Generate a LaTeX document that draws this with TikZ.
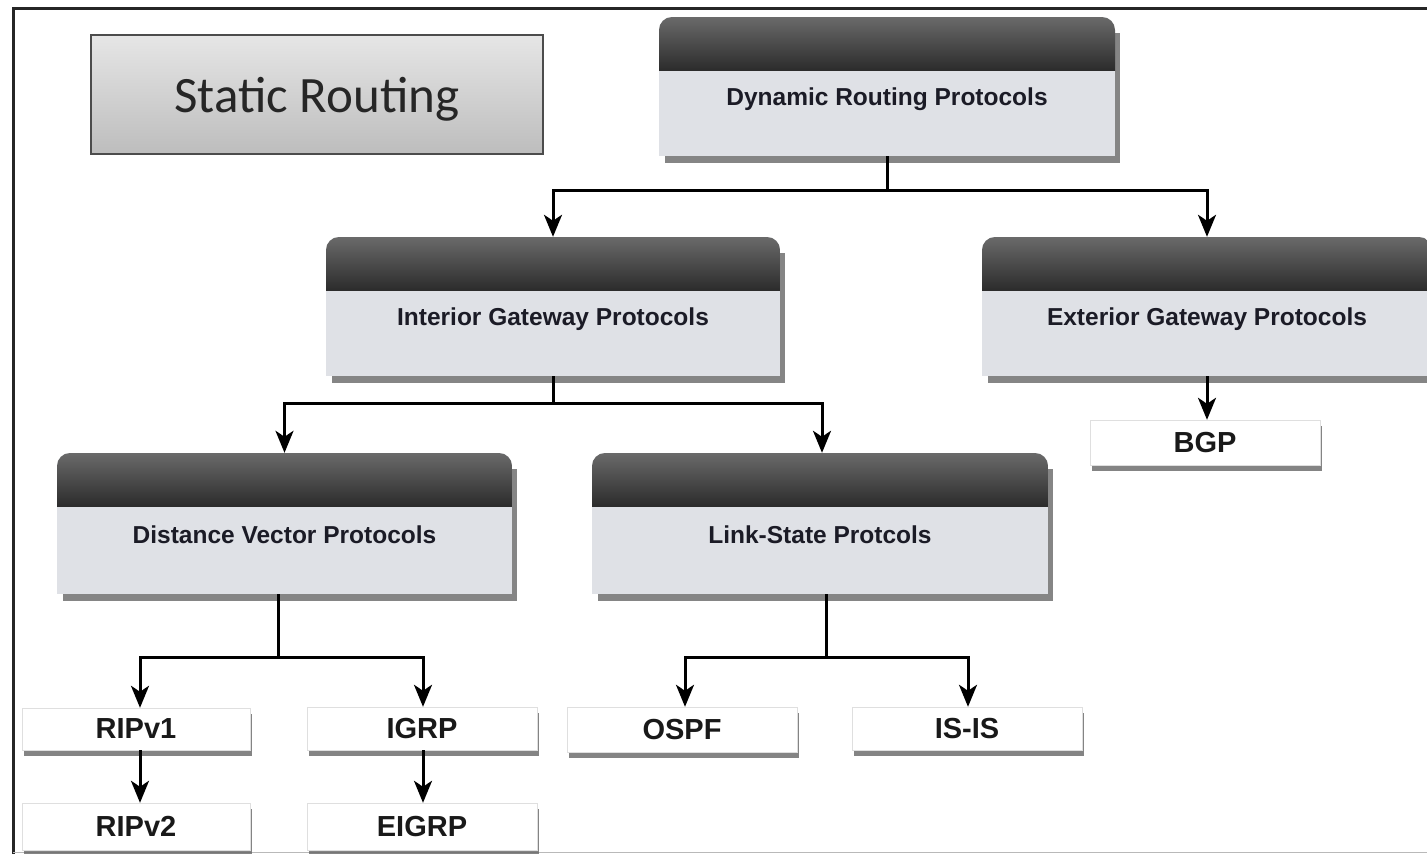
\documentclass[tikz,border=0pt]{standalone}
\usepackage{fontspec}
\setmainfont{Liberation Sans}
\newfontfamily\calfont{Carlito}
\usetikzlibrary{arrows.meta,shadows}
\definecolor{hdtop}{HTML}{6A6A6A}
\definecolor{hdbot}{HTML}{2C2C2C}
\definecolor{bodyc}{HTML}{DFE1E6}
\definecolor{shadc}{HTML}{858585}
\definecolor{txtc}{HTML}{1B1B26}
\definecolor{sttop}{HTML}{E6E6E6}
\definecolor{stbot}{HTML}{BDBDBD}
\tikzset{
  boxarea/.style={inner sep=0pt, draw=none},
  cattext/.style={inner sep=0pt, text=txtc, font=\bfseries\fontsize{24.5}{27}\selectfont},
  leaf/.style={draw=gray!25, fill=white, inner sep=0pt,
    font=\bfseries\fontsize{29}{32}\selectfont, text=black!90,
    drop shadow={shadow xshift=2pt, shadow yshift=-6pt, fill=black!60, opacity=0.8}},
  staticbox/.style={draw=black!70, line width=1.5pt, top color=sttop, bottom color=stbot,
    inner sep=0pt, font=\calfont\fontsize{51}{56}\selectfont, text=black!85},
  conn/.style={line width=3pt, black},
  arr/.style={line width=3pt, black, -{Stealth[length=22pt,width=18pt,inset=6pt]}},
}
\newcommand\catbox[6]{%
  \fill[shadc] ({#2+6},{#3+16}) rectangle ({#4+5},{#5+7});
  \begin{scope}
    \clip[rounded corners=13pt] (#2,#3) rectangle (#4,{#5+16});
    \fill[bodyc] (#2,#3) rectangle (#4,#5);
    \shade[top color=hdtop,bottom color=hdbot] (#2,#3) rectangle (#4,{#3+53});
  \end{scope}
  \node[boxarea, minimum width={#4-#2}, minimum height={#5-#3}] (#1) at ({(#2+#4)/2},{(#3+#5)/2}) {};
  \node[cattext] (#1-t) at ({(#2+#4)/2},{#3+82}) {#6};
}
\begin{document}
\begin{tikzpicture}[x=1pt,y=-1pt]
\clip (0,0) rectangle (1427,854);
\fill[white] (0,0) rectangle (1427,854);
% frame
\draw[line width=3pt, black!85] (13,860) -- (13,8) -- (1432,8);
\draw[line width=1.5pt, gray!55] (13,852.5) -- (1432,852.5);
% static routing
\node[staticbox, minimum width=452, minimum height=119, text depth=0pt, text height=36pt] (static) at (317,94.5) {Static Routing};
% category boxes
\catbox{dyn}{659}{17}{1115}{156}{Dynamic Routing Protocols}
\catbox{igp}{326}{237}{780}{376}{Interior Gateway Protocols}
\catbox{egp}{982}{237}{1432}{376}{Exterior Gateway Protocols}
\catbox{dv}{57}{453}{512}{594}{Distance Vector Protocols}
\catbox{ls}{592}{453}{1048}{594}{Link-State Protcols}
% leaves
\node[leaf, minimum width=228, minimum height=42] (ripv1) at (136,729) {RIPv1};
\node[leaf, minimum width=230, minimum height=43] (igrp) at (422,728.5) {IGRP};
\node[leaf, minimum width=230, minimum height=45] (ospf) at (682,729.5) {OSPF};
\node[leaf, minimum width=230, minimum height=43] (isis) at (967,728.5) {IS-IS};
\node[leaf, minimum width=228, minimum height=47] (ripv2) at (136,826.5) {RIPv2};
\node[leaf, minimum width=230, minimum height=47] (eigrp) at (422,826.5) {EIGRP};
\node[leaf, minimum width=230, minimum height=45] (bgp) at (1205,442.5) {BGP};
% connectors
\draw[conn] (dyn.south) -- ++(0,34) coordinate (j1);
\draw[arr] (j1) -| (igp.north);
\draw[arr] (j1) -| (egp.north);
\draw[arr] (egp.south) -- (egp.south |- bgp.north);
\draw[conn] (igp.south) -- ++(0,27) coordinate (j2);
\draw[arr] (j2) -| (dv.north);
\draw[arr] (j2) -| ([xshift=2pt]ls.north);
\draw[conn] ([xshift=-6pt]dv.south) -- ++(0,63) coordinate (j3);
\draw[arr] (j3) -| ([xshift=4pt]ripv1.north);
\draw[arr] (j3) -| ([xshift=1pt]igrp.north);
\draw[conn] ([xshift=6pt]ls.south) -- ++(0,63) coordinate (j4);
\draw[arr] (j4) -| ([xshift=3pt]ospf.north);
\draw[arr] (j4) -| ([xshift=1pt]isis.north);
\draw[arr] ([xshift=4pt]ripv1.south) -- ([xshift=4pt]ripv2.north);
\draw[arr] ([xshift=1pt]igrp.south) -- ([xshift=1pt]eigrp.north);
\end{tikzpicture}
\end{document}
